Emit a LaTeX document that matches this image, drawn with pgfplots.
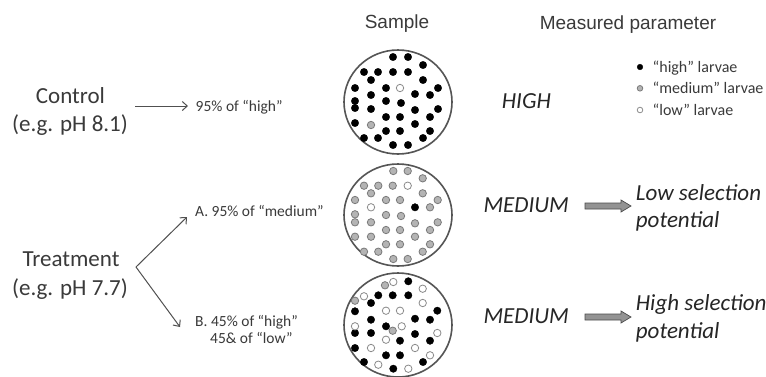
\documentclass[border=0pt]{standalone}
\usepackage{fontspec}
\setmainfont{Carlito}
\newfontfamily\arial{Liberation Sans}
\usepackage{pgfplots}
\pgfplotsset{compat=1.18}
\usetikzlibrary{arrows.meta}
\definecolor{txt}{HTML}{3A3A3A}
\definecolor{arr}{HTML}{505050}
\definecolor{circ}{HTML}{555555}
\definecolor{dgrey}{HTML}{B4B4B4}
\definecolor{dgreyline}{HTML}{7A7A7A}
\definecolor{wline}{HTML}{8A8A8A}
\newcommand{\fs}[1]{\fontsize{#1}{#1}\selectfont}
\begin{document}
\begin{tikzpicture}
\useasboundingbox (0,0) rectangle (766pt,376pt);
\fill[white] (0,0) rectangle (766pt,376pt);
\begin{axis}[at={(0,0)}, anchor=south west, width=766pt, height=376pt,
  scale only axis, xmin=0, xmax=766, ymin=0, ymax=376, y dir=reverse,
  hide axis, clip=false]
% sample circles
\draw[circ, line width=1.6pt] (axis cs:398,102) ellipse [x radius=54pt, y radius=52pt];
\draw[circ, line width=1.6pt] (axis cs:398,215) ellipse [x radius=54pt, y radius=51pt];
\draw[circ, line width=1.6pt] (axis cs:398,325) ellipse [x radius=54pt, y radius=52pt];
% "high" larvae (black)
\addplot[only marks, mark=*, mark size=3.7pt, mark options={fill=black, draw=black}] coordinates {
(393,57) (408,57) (423,65) (364,72) (378,72) (393,72) (408,72) (371,80) (423,80)
(355,88) (386,88) (438,88) (371,95) (415,94) (430,95) (355,101) (355,108) (386,101)
(401,103) (371,109) (415,110) (438,109) (386,117) (400,117) (430,117) (355,123)
(415,124) (386,131) (400,131) (430,131) (364,138) (378,138) (423,138) (393,145) (408,145)
(415,207.3)
(408.3,281.3) (378.3,295.3) (392.7,295.3) (408.3,295.3) (371,303) (355,311.3)
(437.3,310.7) (371,319.7) (415,318.7) (430,319.7) (386,326.3) (355,333) (371,333)
(415,334) (400,340.7) (430,340.7) (355,348) (386,355.3) (400,355.3) (364,362)
(423,362) (393.3,368.7)
};
% "medium" larvae (grey)
\addplot[only marks, mark=*, mark size=3.7pt, mark options={fill=dgrey, draw=dgreyline, line width=0.8pt}] coordinates {
(371,125)
(393.3,171) (407.7,171) (422.7,178.3) (364,185.7) (378.3,185.7) (392.7,185.7)
(371,193.3) (422.7,193.3) (355,200) (386,200) (400,200) (437.7,200) (430,207.3)
(355,214.3) (355,222.3) (386,215) (401,216) (371,222.3) (415,223.3) (437.7,222.3)
(386,230) (400,230) (430,230) (355,236.7) (371,236.7) (415,236.7) (386,244.3)
(400,244.3) (430,244.3) (364,251.7) (378.3,251.7) (422.7,251.7) (393.3,259) (407.7,259)
(385,285.3) (355,300.7) (392.7,330.7)
};
% "low" larvae (white)
\addplot[only marks, mark=*, mark size=3.7pt, mark options={fill=white, draw=wline, line width=0.8pt}] coordinates {
(400,88)
(407.7,185.7) (371,207.3)
(393.3,282) (422.7,288.7) (364,296.3) (422.7,303) (386,310.7) (400,310.7) (355,326.3)
(401.7,326.3) (437.3,333) (386,339.7) (371,348) (415,348) (430,355.3) (378.3,364.7)
(408.3,368.7)
};
% legend markers
\addplot[only marks, mark=*, mark size=2.8pt, mark options={fill=black, draw=black}] coordinates {(640,67)};
\addplot[only marks, mark=*, mark size=2.8pt, mark options={fill=dgrey, draw=dgreyline, line width=0.8pt}] coordinates {(640,88.3)};
\addplot[only marks, mark=*, mark size=2.8pt, mark options={fill=white, draw=wline, line width=0.8pt}] coordinates {(640,110)};
% headers
\node[anchor=base, font=\arial\fs{19}, txt] at (axis cs:397,28) {Sample};
\node[anchor=base, font=\arial\fs{19}, txt] at (axis cs:628,29) {Measured parameter};
% legend text
\node[anchor=base west, font=\fs{16}, txt, inner sep=0pt] at (axis cs:652.5,72) {“high” larvae};
\node[anchor=base west, font=\fs{16}, txt, inner sep=0pt] at (axis cs:652.5,93.5) {“medium” larvae};
\node[anchor=base west, font=\fs{16}, txt, inner sep=0pt] at (axis cs:652.5,115) {“low” larvae};
% left labels
\node[anchor=base, font=\fs{23}, txt, inner sep=0pt] at (axis cs:70.5,103.3) {Control};
\node[anchor=base, font=\fs{23}, txt, inner sep=0pt] at (axis cs:70,131.7) {(e.g. pH 8.1)};
\node[anchor=base, font=\fs{23}, txt, inner sep=0pt] at (axis cs:71,266.7) {Treatment};
\node[anchor=base, font=\fs{23}, txt, inner sep=0pt] at (axis cs:70,295) {(e.g. pH 7.7)};
% thin arrows
\draw[arr, line width=1pt, -{Straight Barb[length=5pt, width=9pt]}] (axis cs:135,106) -- (axis cs:188,106);
\draw[arr, line width=1pt, -{Straight Barb[length=5pt, width=9pt]}] (axis cs:136,267) -- (axis cs:187,217);
\draw[arr, line width=1pt, -{Straight Barb[length=5pt, width=9pt]}] (axis cs:136,267) -- (axis cs:180,327);
% middle labels
\node[anchor=base west, font=\fs{15.5}, txt, inner sep=0pt] at (axis cs:195.5,111) {95\% of “high”};
\node[anchor=base west, font=\fs{15.5}, txt, inner sep=0pt] at (axis cs:195,216.7) {A. 95\% of “medium”};
\node[anchor=base west, font=\fs{15.5}, txt, inner sep=0pt] at (axis cs:195,326.7) {B. 45\% of “high”};
\node[anchor=base west, font=\fs{15.5}, txt, inner sep=0pt] at (axis cs:210,343) {45\& of “low”};
% measured values
\node[anchor=base west, font=\itshape\fs{23}, black!85, inner sep=0pt] at (axis cs:501.7,108.3) {HIGH};
\node[anchor=base west, font=\itshape\fs{23}, black!85, inner sep=0pt] at (axis cs:483.3,212.3) {MEDIUM};
\node[anchor=base west, font=\itshape\fs{23}, black!85, inner sep=0pt] at (axis cs:483.3,323.3) {MEDIUM};
% block arrows
\filldraw[fill=gray!85, draw=black!70, line width=0.7pt] (axis cs:585,203) -- (axis cs:621,203) -- (axis cs:621,200) -- (axis cs:631,206) -- (axis cs:621,212) -- (axis cs:621,209) -- (axis cs:585,209) -- cycle;
\filldraw[fill=gray!85, draw=black!70, line width=0.7pt] (axis cs:585,314) -- (axis cs:621,314) -- (axis cs:621,311) -- (axis cs:631,317) -- (axis cs:621,323) -- (axis cs:621,320) -- (axis cs:585,320) -- cycle;
% outcomes
\node[anchor=base west, font=\itshape\fs{23}, black!85, inner sep=0pt] at (axis cs:635.7,200) {Low selection};
\node[anchor=base west, font=\itshape\fs{23}, black!85, inner sep=0pt] at (axis cs:635.7,227.5) {potential};
\node[anchor=base west, font=\itshape\fs{23}, black!85, inner sep=0pt] at (axis cs:635.7,310) {High selection};
\node[anchor=base west, font=\itshape\fs{23}, black!85, inner sep=0pt] at (axis cs:635.7,338) {potential};
\end{axis}
\end{tikzpicture}
\end{document}
